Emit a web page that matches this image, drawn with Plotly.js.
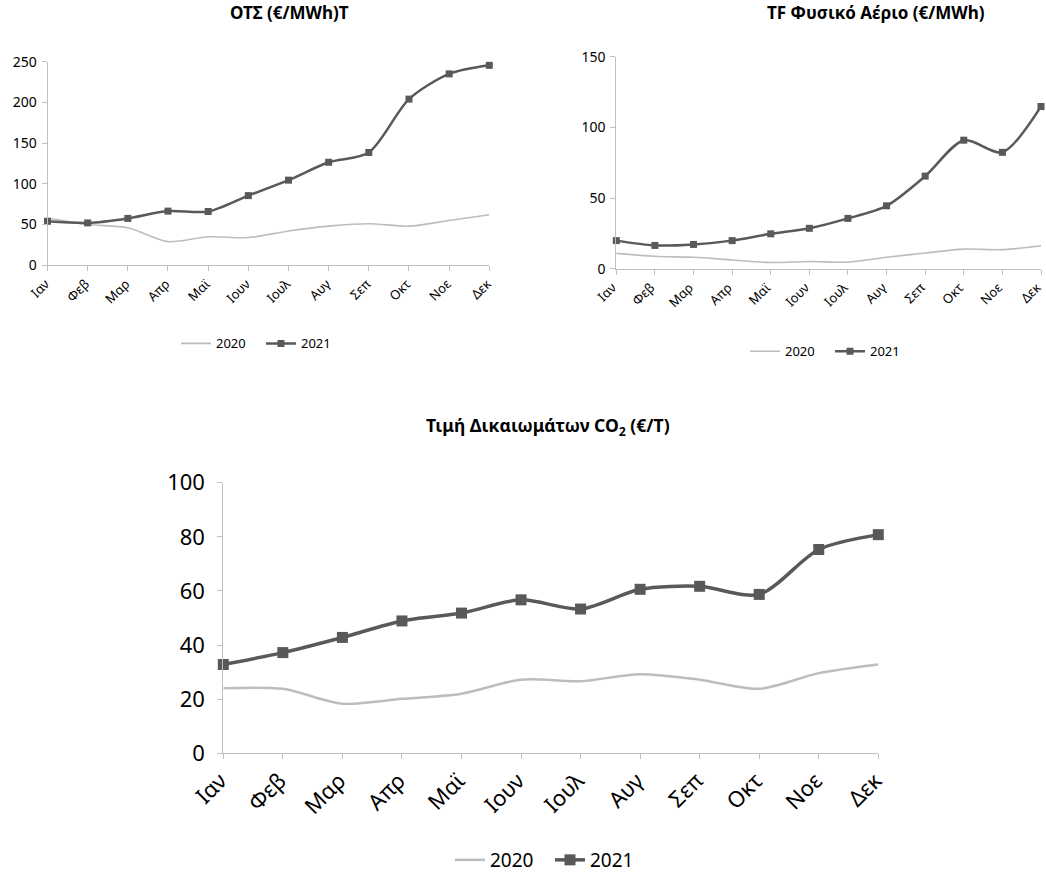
<!DOCTYPE html>
<html>
<head>
<meta charset="utf-8">
<script src="https://cdn.plot.ly/plotly-3.0.1.min.js"></script>
<style>html,body{margin:0;padding:0;background:#fff;}#chart{width:1046px;height:879px;}</style>
</head>
<body>
<div id="chart"></div>
<script>
var months = ["Ιαν","Φεβ","Μαρ","Απρ","Μαϊ","Ιουν","Ιουλ","Αυγ","Σεπ","Οκτ","Νοε","Δεκ"];
var seriesNames = ["2020","2021"];

var otsTitle = "ΟΤΣ (€/MWh)Τ";
var ots2020 = [58, 50, 46, 29, 35, 34, 42, 48, 51, 48, 55, 62];
var ots2021 = [54, 52, 57.5, 66.5, 66, 85.5, 104.5, 126.5, 138.5, 204, 235, 245.5];

var gasTitle = "TF Φυσικό Αέριο (€/MWh)";
var gas2020 = [11, 8.9, 8.2, 6.3, 4.5, 5.2, 4.8, 8.2, 11.2, 14, 13.6, 16.4];
var gas2021 = [20, 16.6, 17.3, 20, 24.8, 28.7, 35.7, 44.6, 65.6, 91, 82.4, 114.8];

var co2Title = "Τιμή Δικαιωμάτων CO<sub>2</sub> (€/T)";
var co22020 = [24, 23.8, 18.3, 20.1, 22, 27.2, 26.6, 29.2, 27.2, 23.8, 29.6, 32.8];
var co22021 = [32.8, 37.2, 42.8, 48.9, 51.8, 56.7, 53.3, 60.6, 61.7, 58.7, 75.3, 80.8];

var W = 1046, H = 879;
var FONT = "Noto Sans, Open Sans, sans-serif";
var light = "#bdbdbd", dark = "#595959", axisCol = "#c0c0c0";

function px(x){ return x / W; }
function py(y){ return 1 - y / H; }

function mk(x, y, name, ax, legend, big){
  var is21 = name === "2021";
  return {
    x: x, y: y, name: name, type: "scatter",
    mode: is21 ? "lines+markers" : "lines",
    xaxis: "x" + ax, yaxis: "y" + ax, legend: legend,
    cliponaxis: false,
    line: {shape: "spline", smoothing: 0.8, color: is21 ? dark : light,
           width: is21 ? (big ? 3.5 : 2.5) : (big ? 2.5 : 1.6)},
    marker: {symbol: "square", size: big ? 11 : 7, color: dark}
  };
}

var traces = [
  mk(months, ots2020, seriesNames[0], "", "legend", false),
  mk(months, ots2021, seriesNames[1], "", "legend", false),
  mk(months, gas2020, seriesNames[0], "2", "legend2", false),
  mk(months, gas2021, seriesNames[1], "2", "legend2", false),
  mk(months, co22020, seriesNames[0], "3", "legend3", true),
  mk(months, co22021, seriesNames[1], "3", "legend3", true)
];

function xax(d, anchor, fs, shift){
  return {domain: d, anchor: anchor, type: "category", range: [0, 11],
    showline: true, linecolor: axisCol, linewidth: 1, showgrid: false, zeroline: false,
    ticks: "outside", ticklen: 5, tickcolor: axisCol,
    tickangle: -45, ticklabelshift: shift,
    tickfont: {family: FONT, size: fs, color: "#000"}, fixedrange: true};
}
function yax(d, anchor, r, dt, fs, so){
  return {domain: d, anchor: anchor, range: r, dtick: dt,
    showline: true, linecolor: axisCol, linewidth: 1, showgrid: false, zeroline: false,
    ticks: "outside", ticklen: 5, tickcolor: axisCol, ticklabelstandoff: so,
    tickfont: {family: FONT, size: fs, color: "#000"}, fixedrange: true};
}

function leg(xp, yp, fs, ew){
  return {orientation: "h", x: px(xp), y: py(yp), xanchor: "left", yanchor: "middle",
    font: {family: FONT, size: fs, color: "#000"}, entrywidth: ew, entrywidthmode: "pixels",
    bgcolor: "rgba(0,0,0,0)", itemwidth: 30, tracegroupgap: 0};
}

var layout = {
  width: W, height: H, autosize: false,
  margin: {l: 0, r: 0, t: 0, b: 0},
  paper_bgcolor: "#fff", plot_bgcolor: "#fff",
  showlegend: true,
  xaxis: xax([px(47.5), px(489.3)], "y", 13, -2),
  yaxis: yax([py(268), py(62.3)], "x", [0, 250], 50, 14, 2),
  xaxis2: xax([px(616.3), px(1041)], "y2", 13, -4),
  yaxis2: yax([py(271.7), py(57.3)], "x2", [0, 150], 50, 14, 2),
  xaxis3: xax([px(223.3), px(878.3)], "y3", 22, -3),
  yaxis3: yax([py(761), py(487.7)], "x3", [0, 100], 20, 22, 8),
  legend: leg(176, 347, 13, 40),
  legend2: leg(745, 355, 13, 40),
  legend3: leg(450, 869, 19, 55),
  annotations: [
    {text: "<b>" + otsTitle + "</b>", x: px(289), y: py(13), xref: "paper", yref: "paper",
     showarrow: false, xanchor: "center", yanchor: "middle", font: {family: FONT, size: 17, color: "#000"}},
    {text: "<b>" + gasTitle + "</b>", x: px(876), y: py(13), xref: "paper", yref: "paper",
     showarrow: false, xanchor: "center", yanchor: "middle", font: {family: FONT, size: 17, color: "#000"}},
    {text: "<b>" + co2Title + "</b>", x: px(548), y: py(431), xref: "paper", yref: "paper",
     showarrow: false, xanchor: "center", yanchor: "middle", font: {family: FONT, size: 17.5, color: "#000"}}
  ]
};

Plotly.newPlot("chart", traces, layout, {displayModeBar: false, staticPlot: true});
</script>
</body>
</html>
